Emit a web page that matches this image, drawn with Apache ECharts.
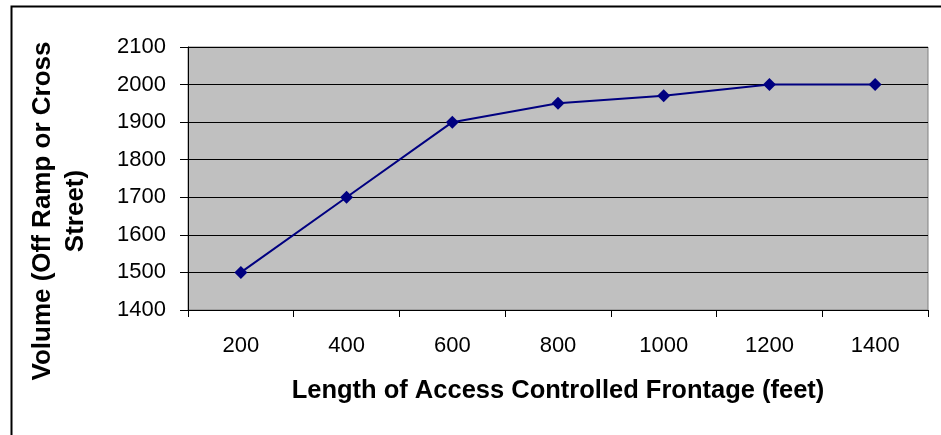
<!DOCTYPE html>
<html><head><meta charset="utf-8">
<script src="https://cdn.jsdelivr.net/npm/echarts@6/dist/echarts.min.js"></script>
<style>html,body{margin:0;padding:0;background:#fff}#c{width:941px;height:435px}</style>
</head><body><div id="c"></div>
<script>
const categories = ['200','400','600','800','1000','1200','1400'];
const volumes = [1500, 1700, 1900, 1950, 1970, 2000, 2000];
const yTicks = {min: 1400, max: 2100, interval: 100};
const xTitle = 'Length of Access Controlled Frontage (feet)';
const yTitleLines = ['Volume (Off Ramp or Cross', 'Street)'];

const chart = echarts.init(document.getElementById('c'), null, {renderer: 'canvas'});
const F = '"Liberation Sans", Arial, sans-serif';
chart.setOption({
  animation: false,
  backgroundColor: '#fff',
  grid: {left: 188, top: 47, right: 13, bottom: 125, show: true, backgroundColor: '#C0C0C0', borderColor: '#808080', borderWidth: 1},
  xAxis: {
    type: 'category', data: categories, boundaryGap: true,
    axisLine: {lineStyle: {color: '#000', width: 1}},
    axisTick: {show: true, length: 7, lineStyle: {color: '#000'}},
    axisLabel: {color: '#000', fontFamily: F, fontSize: 22, margin: 25},
    name: xTitle, nameLocation: 'middle', nameGap: 68,
    nameTextStyle: {color: '#000', fontFamily: F, fontSize: 25.5, fontWeight: 'bold'}
  },
  yAxis: {
    type: 'value', min: yTicks.min, max: yTicks.max, interval: yTicks.interval,
    axisLine: {show: true, lineStyle: {color: '#000', width: 1}},
    axisTick: {show: true, length: 8, lineStyle: {color: '#000'}},
    axisLabel: {color: '#000', fontFamily: F, fontSize: 22, margin: 22, formatter: v => String(v)},
    splitLine: {show: true, lineStyle: {color: '#000', width: 1}}
  },
  graphic: [
    {type: 'rect', shape: {x: 11.5, y: 6.5, width: 940, height: 440}, style: {fill: 'none', stroke: '#000', lineWidth: 2}, z: 100},
    {type: 'text', x: 59, y: 211, rotation: Math.PI/2, style: {text: yTitleLines.join('\n'), fill: '#000', font: 'bold 26px ' + F, textAlign: 'center', textVerticalAlign: 'middle', lineHeight: 33}}
  ],
  series: [{
    type: 'line', data: volumes,
    symbol: 'diamond', symbolSize: 13,
    lineStyle: {color: '#000080', width: 2},
    itemStyle: {color: '#000080'}
  }]
});
</script></body></html>
